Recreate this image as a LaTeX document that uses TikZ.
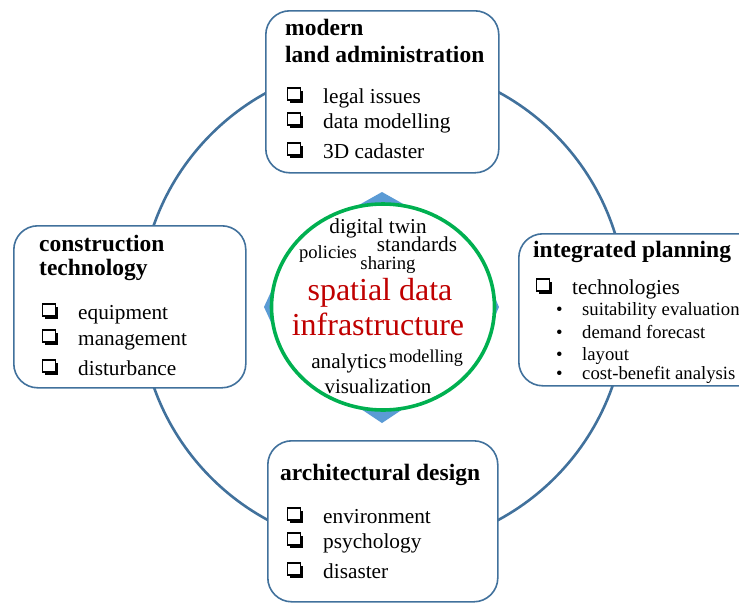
\documentclass[tikz,border=0pt]{standalone}
\usepackage{fontspec}
\setmainfont{Liberation Serif}
\usetikzlibrary{shapes.geometric, shadows}

\definecolor{ringblue}{HTML}{41719C}
\definecolor{diamblue}{HTML}{5B9BD5}
\definecolor{sdigreen}{HTML}{00B050}
\definecolor{sdired}{HTML}{C00000}

\tikzset{
  panel/.style={draw=ringblue, line width=1.6pt, fill=white, rounded corners=24pt,
    anchor=north west, inner sep=0pt},
  head/.style={anchor=base west, inner sep=0pt, font=\bfseries\fontsize{23.5}{24}\selectfont},
  item/.style={anchor=base west, inner sep=0pt, font=\fontsize{21.3}{22}\selectfont},
  sub/.style={anchor=base west, inner sep=0pt, font=\fontsize{18.7}{19}\selectfont},
  word/.style={anchor=base, inner sep=0pt, font=\fontsize{21.2}{22}\selectfont},
  % square bullet with a hard shadow
  chk/.style={draw, line width=1.5pt, fill=white, inner sep=0pt, minimum width=13pt,
    minimum height=12pt, drop shadow={shadow xshift=2.6pt, shadow yshift=-2.6pt,
    fill=black, opacity=1}},
}

\begin{document}
\begin{tikzpicture}[x=1pt, y=-1pt]
    \clip (0,0) rectangle (739,603);
    % outer ring joining the four fields
    \node[circle, draw=ringblue, line width=2.6pt, minimum size=486pt, inner sep=0pt] (ring) at (383,306) {};
    % four fields
    \node[panel, minimum width=233pt, minimum height=162pt] (mla) at (265,10) {};
    \node[panel, minimum width=232pt, minimum height=162pt] (ct) at (13,225) {};
    \node[panel, minimum width=250pt, minimum height=152pt] (ip) at (518,233) {};
    \node[panel, minimum width=230pt, minimum height=161pt] (ad) at (267,440) {};
    % centre: blue star tips behind the green ellipse
    \fill[diamblue] (382,192) -- (414,210) -- (483,270) -- (499,307) -- (483,344)
      -- (409,405) -- (382,423) -- (355,405) -- (281,344) -- (264,307) -- (281,270)
      -- (350,210) -- cycle;
    \node[ellipse, draw=sdigreen, fill=white, line width=3.6pt, minimum width=223pt,
      minimum height=206pt, inner sep=0pt] (sdi) at (383,307) {};

    % modern land administration
    \node[head] (mla-h1) at (285,35) {modern};
    \node[head] (mla-h2) at (285,62) {land administration};
    \node[chk] (mla-c1) at (294,94) {};
    \node[item] (mla-t1) at (323,103) {legal issues};
    \node[chk] (mla-c2) at (294,119) {};
    \node[item] (mla-t2) at (323,128) {data modelling};
    \node[chk] (mla-c3) at (294,149) {};
    \node[item] (mla-t3) at (323,158) {3D cadaster};

    % construction technology
    \node[head] (ct-h1) at (39,251) {construction};
    \node[head] (ct-h2) at (39,275) {technology};
    \node[chk] (ct-c1) at (49,310) {};
    \node[item] (ct-t1) at (78,319) {equipment};
    \node[chk] (ct-c2) at (49,336) {};
    \node[item] (ct-t2) at (78,345) {management};
    \node[chk] (ct-c3) at (49,366) {};
    \node[item] (ct-t3) at (78,375) {disturbance};

    % integrated planning
    \node[head] (ip-h) at (533,257) {integrated planning};
    \node[chk] (ip-c1) at (543,285) {};
    \node[item] (ip-t1) at (572,294) {technologies};
    \node[sub] (ip-b1) at (556,315) {•};
    \node[sub] (ip-s1) at (582,315) {suitability evaluation};
    \node[sub] (ip-b2) at (556,338) {•};
    \node[sub] (ip-s2) at (582,338) {demand forecast};
    \node[sub] (ip-b3) at (556,360) {•};
    \node[sub] (ip-s3) at (582,360) {layout};
    \node[sub] (ip-b4) at (556,379) {•};
    \node[sub] (ip-s4) at (582,379) {cost-benefit analysis};

    % architectural design
    \node[head] (ad-h) at (280,480) {architectural design};
    \node[chk] (ad-c1) at (294,514) {};
    \node[item] (ad-t1) at (323,523) {environment};
    \node[chk] (ad-c2) at (294,539) {};
    \node[item] (ad-t2) at (323,548) {psychology};
    \node[chk] (ad-c3) at (294,569) {};
    \node[item] (ad-t3) at (323,578) {disaster};

    % word cloud inside the ellipse
    \node[word] (w-twin) at (378,233) {digital twin};
    \node[word] (w-std) at (417,251) {standards};
    \node[word, font=\fontsize{18.6}{19}\selectfont] (w-pol) at (328,258) {policies};
    \node[word, font=\fontsize{18.7}{19}\selectfont] (w-shr) at (388,269) {sharing};
    \node[word, text=sdired, font=\fontsize{32}{32}\selectfont] (w-sdi1) at (380,300) {spatial data};
    \node[word, text=sdired, font=\fontsize{32}{32}\selectfont] (w-sdi2) at (378,335) {infrastructure};
    \node[word] (w-ana) at (349,368) {analytics};
    \node[word, font=\fontsize{18.2}{19}\selectfont] (w-mod) at (426,362) {modelling};
    \node[word, font=\fontsize{20.9}{21}\selectfont] (w-vis) at (378,393) {visualization};
\end{tikzpicture}
\end{document}
